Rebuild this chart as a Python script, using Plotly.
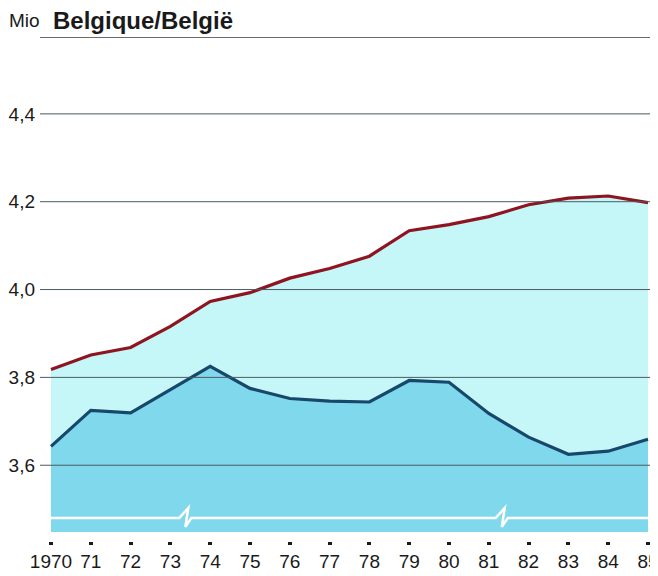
import plotly.graph_objects as go

years = list(range(1970, 1986))
year_labels = ["1970", "71", "72", "73", "74", "75", "76", "77", "78", "79",
               "80", "81", "82", "83", "84", "85"]
upper_series = [3.818, 3.851, 3.868, 3.916, 3.973, 3.993, 4.026, 4.048, 4.076,
                4.134, 4.148, 4.166, 4.193, 4.208, 4.213, 4.198]
lower_series = [3.643, 3.725, 3.719, 3.773, 3.825, 3.775, 3.752, 3.746, 3.744,
                3.793, 3.789, 3.718, 3.664, 3.625, 3.632, 3.659]
y_ticks = [3.6, 3.8, 4.0, 4.2, 4.4]
y_tick_labels = ["3,6", "3,8", "4,0", "4,2", "4,4"]
y_min, y_max = 3.448, 4.575
break_level = 3.48
break_years = [1973.35, 1981.3]

fig = go.Figure()
fig.add_trace(go.Scatter(x=years, y=upper_series, mode="lines", fill="tozeroy",
                         fillcolor="#c6f7f8", line=dict(color="#8e1520", width=3.2),
                         hoverinfo="skip", showlegend=False))
fig.add_trace(go.Scatter(x=years, y=lower_series, mode="lines", fill="tozeroy",
                         fillcolor="#80d8ec", line=dict(color="#17476a", width=3.2),
                         hoverinfo="skip", showlegend=False))

# horizontal gridlines drawn over the fills
shapes = []
for v in y_ticks:
    shapes.append(dict(type="line", xref="paper", yref="y", x0=0, x1=1, y0=v, y1=v,
                       line=dict(color="#4a5a60", width=1), layer="above"))
shapes.append(dict(type="line", xref="paper", yref="y", x0=0, x1=1, y0=y_max, y1=y_max,
                   line=dict(color="#3a3a3a", width=1.5), layer="above"))

# white axis-break line with zigzags
pxx = 1 / 39.8   # years per pixel
pxy = 1 / 440.0  # units per pixel
path = f"M {years[0]},{break_level}"
for b in break_years:
    path += f" L {b - 5*pxx},{break_level}"
    path += f" L {b + 4*pxx},{break_level + 10*pxy}"
    path += f" L {b + 1*pxx},{break_level - 9*pxy}"
    path += f" L {b + 7*pxx},{break_level}"
path += f" L {years[-1]},{break_level}"
shapes.append(dict(type="path", xref="x", yref="y", path=path,
                   line=dict(color="white", width=2.5), layer="above"))

# page body has an 8px margin; plot area spans window x 40..658, y 37..541
fig.update_layout(
    width=658, height=576,
    margin=dict(l=32, r=8, t=29, b=43),
    paper_bgcolor="white", plot_bgcolor="white",
    shapes=shapes,
    font=dict(family="Liberation Sans, Arial, sans-serif", color="#1a1a1a"),
    xaxis=dict(range=[1970 - 11 * pxx, 1985 + 10 * pxx], tickmode="array",
               tickvals=years, ticktext=year_labels, showgrid=False, zeroline=False,
               showline=False, ticks="outside", ticklen=3, tickwidth=3.5,
               tickcolor="#1a1a1a", tickfont=dict(size=19),
               anchor="free", position=0, automargin=False),
    yaxis=dict(range=[y_min, y_max], domain=[9 / 504, 1], tickmode="array",
               tickvals=y_ticks, ticktext=y_tick_labels, showgrid=False,
               zeroline=False, showline=False, ticks="", tickfont=dict(size=19),
               ticklabelstandoff=4, automargin=False),
    annotations=[
        dict(xref="paper", yref="paper", x=-32 / 618, y=1, yshift=17,
             xanchor="left", yanchor="middle", showarrow=False, borderpad=0,
             text="Mio", font=dict(size=19)),
        dict(xref="paper", yref="paper", x=12 / 618, y=1, yshift=17,
             xanchor="left", yanchor="middle", showarrow=False, borderpad=0,
             text="<b>Belgique/België</b>", font=dict(size=24)),
    ],
)

fig.write_html("out.html")
